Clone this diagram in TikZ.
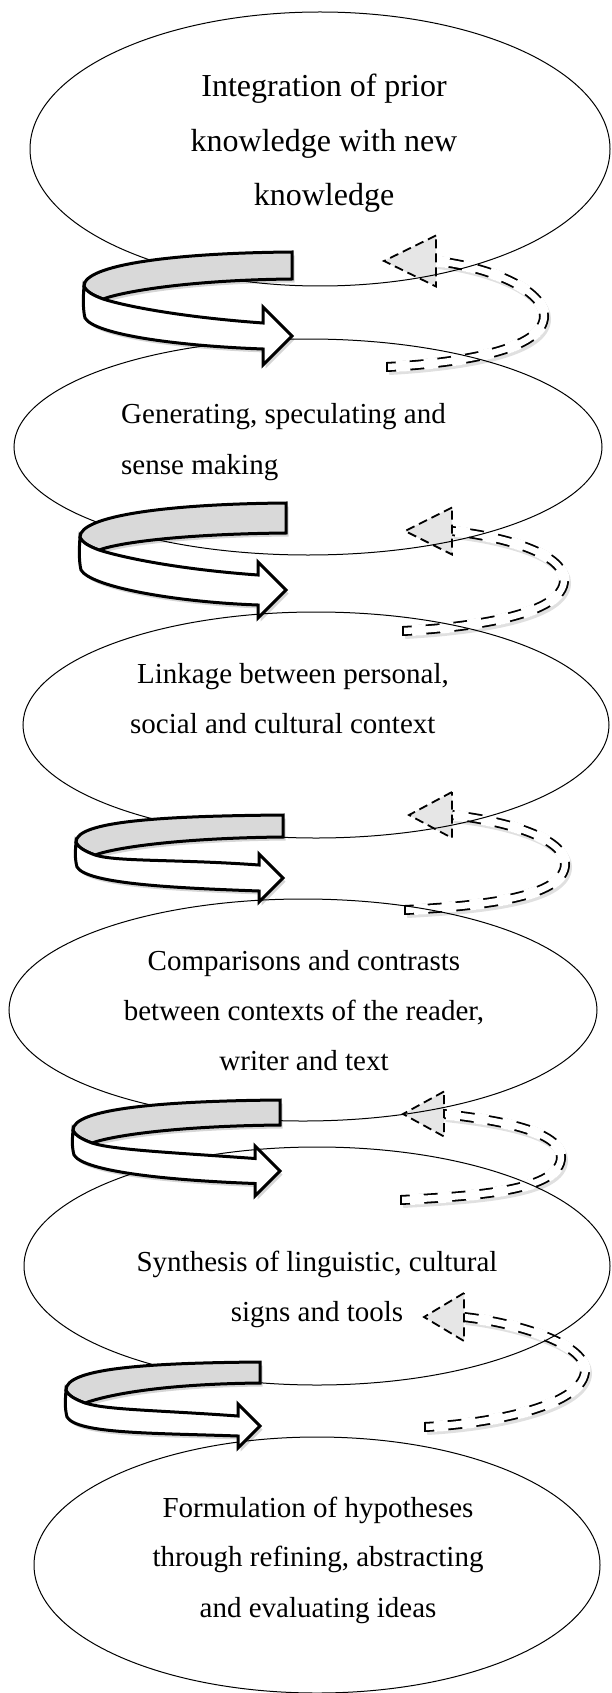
\documentclass[tikz,border=0pt]{standalone}
\usepackage{fontspec}
\setmainfont{Liberation Serif}
\usetikzlibrary{shapes.geometric}

\definecolor{ribbongrey}{HTML}{D9D9D9}
\definecolor{headgrey}{HTML}{E6E6E6}

\tikzset{
  stage/.style={ellipse, draw=black, line width=1pt, inner sep=0pt, outer sep=0pt},
  bigtext/.style={font=\fontsize{32}{38}\selectfont, inner sep=0pt},
  bodytext/.style={font=\fontsize{29}{35}\selectfont, inner sep=0pt},
  ribbonback/.style={draw=black, line width=3pt, fill=ribbongrey, line join=miter},
  ribbonfront/.style={draw=black, line width=3pt, fill=white, line join=miter},
  ribbonshade/.style={fill=black, opacity=0.16},
  bandouter/.style={draw=black, line width=10pt},
  bandinner/.style={draw=white, line width=6.4pt},
  bandgaps/.style={draw=white, line width=11pt, dash pattern=on 0pt off 9pt on 5pt},
  dashshade/.style={draw=black, line width=10pt, opacity=0.12},
  dashcap/.style={draw=black, line width=1.8pt},
  dashhead/.style={draw=black, line width=1.8pt, fill=headgrey,
    dash pattern=on 9pt off 5pt},
}

% Curled ribbon arrow: grey back face on top, white front face ending in a head.
% #1 left x, #2 tip x, #3 grey top y, #4 grey bottom y, #5 left top y,
% #6 left bottom y, #7 tip y, #8 half width of the band, #9 half width of the head
\newcommand\curlarrow[9]{%
  \def\backpath{(#2,#3) .. controls (#2-120,#3+1) and (#1,#5-21) .. (#1,#5)
     .. controls (#1+2,#5+6) and (#1+11,#5+10) .. (#1+19,#5+13)
     .. controls (#1+41,#5+5) and (#2-100,#4+1) .. (#2,#4) -- cycle}%
  \def\frontpath{(#1+19,#5+13) .. controls (#1+11,#5+10) and (#1+2,#5+6) .. (#1,#5)
     .. controls (#1-1,#5+13) and (#1-1,#6-8) .. (#1+1,#6)
     .. controls (#1+11,#6+17) and (#2-#9-83,#7+#8-3) .. (#2-#9,#7+#8)
     -- (#2-#9,#7+#9) -- (#2,#7) -- (#2-#9,#7-#9) -- (#2-#9,#7-#8)
     .. controls (#2-#9-83,#7-#8-6) and (#1+41,#5+20) .. (#1+19,#5+13) -- cycle}%
  \fill[ribbonshade, shift={(2.5,3.5)}] \backpath \frontpath;
  \path[ribbonback] \backpath;
  \path[ribbonfront] \frontpath;
}

% Dashed return loop: #1,#2 open end; #3,#4 outermost point; #5,#6 base of the head;
% #7 tip x; #8 half height of the head
\newcommand\loopback[8]{%
  \def\looppath{(#1,#2) .. controls (#1+73,#2-4) and (#3,#4+34) .. (#3,#4)
     .. controls (#3,#4-26) and (#5+54,#6+6) .. (#5,#6)}%
  % soft shade, then a band with two edge lines, then cut into dashes
  \path[dashshade, shift={(2,3)}] \looppath;
  \path[bandouter] \looppath;
  \path[bandinner] \looppath;
  \path[bandgaps] \looppath;
  \path[dashcap] (#1,#2-4.8) -- (#1,#2+4.8);
  \path[dashhead] (#5,#6-#8) -- (#7,#6) -- (#5,#6+#8) -- cycle;
}

\begin{document}
\begin{tikzpicture}[x=1pt, y=-1pt]
\useasboundingbox (0,0) rectangle (611,1693);
\fill[white] (0,0) rectangle (611,1693);

% dashed return loops on the right
\loopback{387}{367}{544}{316}{436}{261}{384}{25.5}
\loopback{403}{631}{564}{580}{452}{531}{405}{23.5}
\loopback{405}{910}{565}{864}{452}{815}{409}{23}
\loopback{401}{1200}{561}{1157}{444}{1114}{403}{22.5}
\loopback{425}{1427}{585}{1370}{464}{1317}{424}{24}

% stages
\node[stage, minimum width=580pt, minimum height=274pt] (e1) at (320,149) {};
\node[stage, minimum width=588pt, minimum height=216pt] (e2) at (308,447) {};
\node[stage, minimum width=586pt, minimum height=226pt] (e3) at (316,725) {};
\node[stage, minimum width=588pt, minimum height=222pt] (e4) at (303,1010) {};
\node[stage, minimum width=586pt, minimum height=238pt] (e5) at (317,1266) {};
\node[stage, minimum width=566pt, minimum height=256pt] (e6) at (317,1565) {};

% curled ribbon arrows on the left
\curlarrow{84}{292}{252}{279}{286}{318}{336}{13}{29}
\curlarrow{80}{286}{503}{533}{537}{570}{590}{15}{28}
\curlarrow{76}{283}{815}{837}{842}{867}{878}{13}{24}
\curlarrow{73}{280}{1100}{1125}{1130}{1155}{1171}{12.5}{25}
\curlarrow{66}{260}{1362}{1383}{1390}{1417}{1426}{10}{22}

% stage texts
\node[bigtext, anchor=base] (t1a) at (324,97) {Integration of prior};
\node[bigtext, anchor=base] (t1b) at (324,152) {knowledge with new};
\node[bigtext, anchor=base] (t1c) at (324,206) {knowledge};

\node[bodytext, anchor=base west] (t2a) at (121,423) {Generating, speculating and};
\node[bodytext, anchor=base west] (t2b) at (121,474) {sense making};

\node[bodytext, anchor=base west] (t3a) at (137,683) {Linkage between personal,};
\node[bodytext, anchor=base west] (t3b) at (130,733) {social and cultural context};

\node[bodytext, anchor=base] (t4a) at (304,970) {Comparisons and contrasts};
\node[bodytext, anchor=base] (t4b) at (304,1020) {between contexts of the reader,};
\node[bodytext, anchor=base] (t4c) at (304,1070) {writer and text};

\node[bodytext, anchor=base] (t5a) at (317,1271) {Synthesis of linguistic, cultural};
\node[bodytext, anchor=base] (t5b) at (317,1321) {signs and tools};

\node[bodytext, anchor=base] (t6a) at (318,1517) {Formulation of hypotheses};
\node[bodytext, anchor=base] (t6b) at (318,1566) {through refining, abstracting};
\node[bodytext, anchor=base] (t6c) at (318,1617) {and evaluating ideas};
\end{tikzpicture}
\end{document}
